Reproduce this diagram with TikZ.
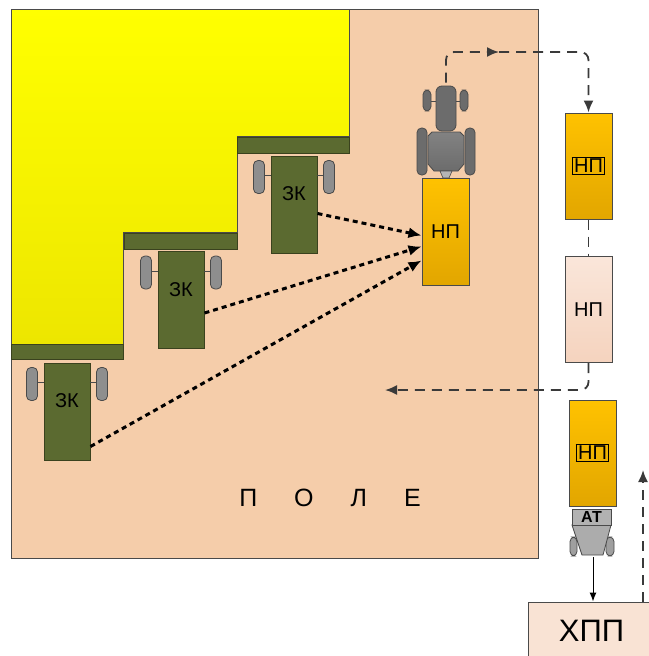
\documentclass[tikz,border=0pt]{standalone}
\usepackage{fontspec}
\setmainfont{Liberation Sans}
\usetikzlibrary{arrows.meta}
\definecolor{fieldc}{HTML}{F5CDAA}
\definecolor{croptop}{HTML}{FFFF00}
\definecolor{cropbot}{HTML}{EDE600}
\definecolor{combc}{HTML}{5B6A30}
\definecolor{combd}{HTML}{3A421E}
\definecolor{wheelc}{HTML}{8E8E8E}
\definecolor{darkc}{HTML}{4A4A4A}
\definecolor{linec}{HTML}{3A3A3A}
\definecolor{tracc}{HTML}{6C6C6C}
\definecolor{trailtop}{HTML}{FFC200}
\definecolor{trailbot}{HTML}{E2A600}
\definecolor{paletop}{HTML}{FAE6DA}
\definecolor{palebot}{HTML}{F5D3BE}
\definecolor{hppc}{HTML}{F9E3D4}
\newcommand{\boxlbl}[1]{{\setlength{\fboxrule}{1.3pt}\setlength{\fboxsep}{1.2pt}\fbox{#1}}}
\tikzstyle{harvester} = [rectangle, draw=combd, fill=combc, line width=1pt, minimum width=46pt, minimum height=97pt, inner sep=0pt, text height=14pt, text depth=22pt, font=\fontsize{20}{20}\selectfont]
\tikzstyle{header} = [draw=combd, fill=combc, line width=1pt]
\tikzstyle{wheel} = [draw=darkc, fill=wheelc, rounded corners=4.5pt, line width=0.8pt]
\tikzstyle{trailer} = [rectangle, draw=darkc, line width=1pt, top color=trailtop, bottom color=trailbot, minimum width=47pt, minimum height=106pt, inner sep=0pt, font=\fontsize{20}{20}\selectfont]
\tikzstyle{paletrailer} = [trailer, top color=paletop, bottom color=palebot]
\tikzstyle{haulpath} = [draw=linec, line width=1.8pt, dash pattern=on 10pt off 7pt, rounded corners=8pt, -{Latex[length=12pt,width=10pt]}]
\tikzstyle{unload} = [draw=black, line width=3pt, dash pattern=on 5pt off 4pt, -{Latex[length=13pt,width=11pt]}]

\begin{document}
\begin{tikzpicture}[x=1pt,y=-1pt]
\useasboundingbox (0,0) rectangle (648,656);
% field and standing crop
\draw[draw=darkc, line width=1pt, fill=fieldc] (11,9) rectangle (538,558);
\draw[draw=darkc, line width=1pt, top color=croptop, bottom color=cropbot] (11,9) -- (349,9) -- (349,136) -- (237,136) -- (237,232) -- (123,232) -- (123,344) -- (11,344) -- cycle;
\draw[header] (237,137) rectangle (349,153);
\draw[header] (124,233) rectangle (237,249);
\draw[header] (11,344) rectangle (123,359);

% harvesters
\node[harvester] (zk1) at (294,204.5) {ЗК};
\node[harvester] (zk2) at (181,300) {ЗК};
\node[harvester] (zk3) at (67,411.5) {ЗК};
\foreach \h in {zk1,zk2,zk3} {
	\draw[darkc, line width=0.8pt, shift={(\h.north west)}] (-6,20) -- (0,20) (46,20) -- (52,20);
	\draw[wheel, shift={(\h.north west)}] (-17,5) rectangle (-6,38);
	\draw[wheel, shift={(\h.north east)}] (6,5) rectangle (17,38);
}

% tractor with trailer
\draw[wheel, fill=tracc] (417,128) rectangle (427,175);
\draw[wheel, fill=tracc] (465,128) rectangle (475,175);
\draw[darkc, line width=0.8pt] (427,101) -- (464,101);
\draw[wheel, fill=tracc] (423,90) rectangle (431,111);
\draw[wheel, fill=tracc] (460,90) rectangle (468,111);
\node[draw=darkc, line width=0.8pt, fill=tracc, rounded corners=6pt, minimum width=20pt, minimum height=45pt, inner sep=0pt] (hood) at (446,108.5) {};
\draw[draw=darkc, line width=0.8pt, top color=tracc!85, bottom color=tracc] (432,132) -- (460,132) -- (464,136) -- (464,164) -- (458,171) -- (434,171) -- (428,164) -- (428,136) -- cycle;
\draw[draw=darkc, line width=0.6pt, fill=tracc!50] (440,171) -- (452,171) -- (449,178) -- (443,178) -- cycle;
\node[trailer, minimum height=107pt] (np1) at (445.5,231.5) {НП};

\draw[unload] ([yshift=-9pt]zk1.east) -- ([yshift=-4pt]np1.west);
\draw[unload] ([yshift=-13pt]zk2.east) -- ([yshift=-15pt]np1.west);
\draw[unload] ([yshift=-35pt]zk3.east) -- ([yshift=-29pt]np1.west);

% trailers on the way
\node[trailer] (np2) at (588.5,166) {\boxlbl{НП}};
\node[paletrailer] (np3) at (588.5,309.5) {НП};
\node[trailer] (np4) at (592.5,453) {\boxlbl{НП}};

\coordinate (turn) at (499,52);
\draw[haulpath, dash phase=-3pt] (hood.north) |- (turn);
\draw[haulpath] (turn) -| (np2.north);
\draw[haulpath, -] (np2.south) -- (np3.north);
\coordinate (back) at (385,390);
\draw[haulpath] (np3.south) |- (back);

% truck
\draw[wheel, fill=gray!75] (570,537) rectangle (577,556);
\draw[wheel, fill=gray!75] (606,537) rectangle (614,556);
\draw[draw=darkc, line width=0.8pt, fill=gray!65] (572,525) -- (611,525) -- (603,555) -- (582,555) -- cycle;
\node[draw=darkc, line width=0.8pt, fill=gray!60, minimum width=39pt, minimum height=16pt, inner sep=0pt, font=\bfseries\fontsize{16}{16}\selectfont] (at) at (591.5,517) {АТ};
\coordinate (atend) at (593,557);

\node[draw=darkc, line width=1pt, fill=hppc, minimum width=127pt, minimum height=58pt, inner sep=0pt, font=\fontsize{31}{31}\selectfont] (hpp) at (591.5,631) {ХПП};
\draw[line width=1pt, -{Latex[length=9pt,width=7pt]}] (atend) -- (atend |- hpp.north);
\coordinate (up) at (643,470);
\draw[haulpath] (up |- hpp.north) -- (up);

\node[font=\fontsize{25}{25}\selectfont] (pole) at (330,498) {П\hspace{37pt}О\hspace{37pt}Л\hspace{37pt}Е};
\end{tikzpicture}
\end{document}
